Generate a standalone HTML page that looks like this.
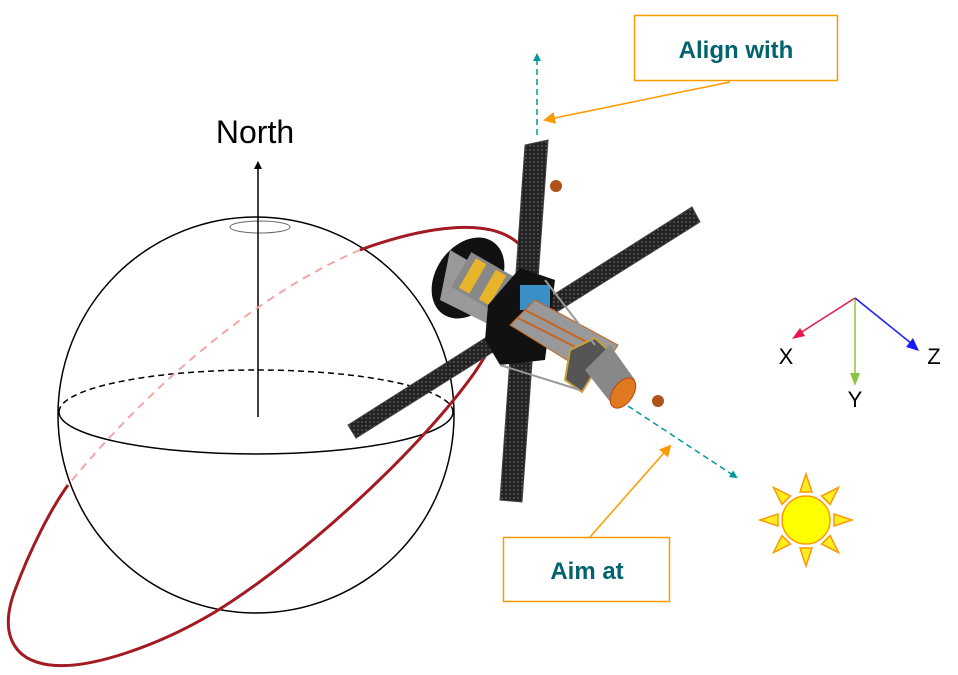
<!DOCTYPE html>
<html><head><style>body{margin:0;background:#fff;overflow:hidden}svg{display:block}</style></head><body>
<svg width="958" height="675" viewBox="0 0 958 675" xmlns="http://www.w3.org/2000/svg" font-family="Liberation Sans, sans-serif">
<defs>
<marker id="at" markerWidth="8" markerHeight="8" refX="6" refY="4" orient="auto" markerUnits="userSpaceOnUse"><path d="M0,0 L8,4 L0,8z" fill="#009999"/></marker>
<marker id="ao" markerWidth="12" markerHeight="12" refX="10" refY="6" orient="auto" markerUnits="userSpaceOnUse"><path d="M0,0 L12,6 L0,12z" fill="#ff9900"/></marker>
<marker id="ak" markerWidth="8" markerHeight="8" refX="7" refY="4" orient="auto" markerUnits="userSpaceOnUse"><path d="M0,0 L8,4 L0,8z" fill="#000"/></marker>
<pattern id="hex" width="4" height="4" patternUnits="userSpaceOnUse"><rect width="4" height="4" fill="#222"/><circle cx="2" cy="2" r="1" fill="#555"/></pattern>
</defs>
<!-- sphere -->
<circle cx="256" cy="415" r="198" fill="none" stroke="#000" stroke-width="1.5"/>
<path d="M59,412 A197,42 0 0 1 453,412" fill="none" stroke="#000" stroke-width="1.5" stroke-dasharray="6,4"/>
<path d="M59,412 A197,42 0 0 0 453,412" fill="none" stroke="#000" stroke-width="1.5"/>
<ellipse cx="260" cy="227" rx="30" ry="6" fill="none" stroke="#666" stroke-width="1"/>
<line x1="258" y1="417" x2="258" y2="162" stroke="#000" stroke-width="1.5" marker-end="url(#ak)"/>
<text x="255" y="143" font-size="32" text-anchor="middle">North</text>
<!-- orbit -->
<path d="M360,250 C 260,292 150,385 68,485" fill="none" stroke="#f4a6a6" stroke-width="2" stroke-dasharray="8,6"/>
<path d="M360,250 C 420,228 490,215 520,245" fill="none" stroke="#a31a22" stroke-width="3"/>
<path d="M520,245 C 520,290 500,335 475,372 C 420,450 300,560 215,612 C 160,645 90,670 50,665 C 10,660 0,630 15,590 C 30,550 50,510 68,485" fill="none" stroke="#a31a22" stroke-width="3"/>
<!-- satellite panels -->
<polygon points="525,145 548,140 522,502 500,500" fill="url(#hex)" stroke="#444"/>
<polygon points="348,425 692,207 700,222 356,438" fill="url(#hex)" stroke="#444"/>
<!-- cone -->
<ellipse cx="468" cy="278" rx="32" ry="44" transform="rotate(35 468 278)" fill="#111"/>
<polygon points="450,250 510,285 500,330 440,300" fill="#999"/>
<rect x="458" y="262" width="50" height="40" fill="#888" transform="rotate(30 483 282)"/>
<rect x="465" y="265" width="12" height="34" fill="#e8b52a" transform="rotate(30 483 282)"/>
<rect x="488" y="265" width="12" height="34" fill="#e8b52a" transform="rotate(30 483 282)"/>
<polygon points="488,305 520,268 555,280 545,360 500,365 485,340" fill="#111"/>
<rect x="520" y="285" width="30" height="25" fill="#3b8fc7"/>
<!-- tube -->
<polygon points="510,325 535,300 618,345 596,378" fill="#999"/>
<polygon points="510,325 535,300 618,345 596,378" fill="none" stroke="#c8641e" stroke-width="1"/>
<line x1="518" y1="318" x2="605" y2="362" stroke="#c8641e" stroke-width="2"/>
<line x1="525" y1="310" x2="612" y2="355" stroke="#c8641e" stroke-width="2"/>
<polygon points="570,350 595,338 608,350 582,392 565,380" fill="#555" stroke="#c9a040" stroke-width="2"/>
<polygon points="585,370 610,345 635,380 615,408" fill="#888"/>
<ellipse cx="623" cy="393" rx="10" ry="17" transform="rotate(35 623 393)" fill="#e07a20" stroke="#c04010"/>
<line x1="500" y1="365" x2="580" y2="390" stroke="#999" stroke-width="2"/>
<line x1="545" y1="280" x2="595" y2="345" stroke="#999" stroke-width="2"/>
<circle cx="556" cy="186" r="6" fill="#b0501a"/>
<circle cx="658" cy="401" r="6" fill="#b0501a"/>
<!-- teal lines -->
<line x1="537" y1="135" x2="537" y2="55" stroke="#009999" stroke-width="1.5" stroke-dasharray="6,4" marker-end="url(#at)"/>
<line x1="628" y1="406" x2="736" y2="477" stroke="#009999" stroke-width="1.5" stroke-dasharray="6,4" marker-end="url(#at)"/>
<!-- orange arrows -->
<line x1="730" y1="82" x2="545" y2="120" stroke="#ff9900" stroke-width="1.5" marker-end="url(#ao)"/>
<line x1="590" y1="537" x2="670" y2="446" stroke="#ff9900" stroke-width="1.5" marker-end="url(#ao)"/>
<!-- boxes -->
<rect x="634.5" y="15.5" width="203" height="65" fill="#fff" stroke="#ff9900" stroke-width="1.5"/>
<text x="736" y="58" font-size="24" font-weight="bold" fill="#00646e" text-anchor="middle">Align with</text>
<rect x="503.5" y="537.5" width="166" height="64" fill="#fff" stroke="#ff9900" stroke-width="1.5"/>
<text x="587" y="579" font-size="24" font-weight="bold" fill="#00646e" text-anchor="middle">Aim at</text>
<!-- axes -->
<line x1="855" y1="298" x2="797" y2="335" stroke="#e8174a" stroke-width="1.5"/>
<polygon points="792,339 800,328 805,336" fill="#e8174a"/>
<line x1="855" y1="298" x2="855" y2="376" stroke="#8ac43f" stroke-width="1.5"/>
<polygon points="850,373 860,373 855,386" fill="#8ac43f"/>
<line x1="855" y1="298" x2="912" y2="344" stroke="#1a1aff" stroke-width="1.5"/>
<polygon points="919,351 906,347 913,338" fill="#1a1aff"/>
<text x="786" y="364" font-size="22" text-anchor="middle">X</text>
<text x="855" y="407" font-size="22" text-anchor="middle">Y</text>
<text x="934" y="364" font-size="22" text-anchor="middle">Z</text>
<!-- sun -->
<g fill="#ffee22" stroke="#ff9900" stroke-width="1.5">
<circle cx="806" cy="520" r="24" fill="#ffff00"/>
<g id="ray"><polygon points="800,492 812,492 806,474"/></g>
<use href="#ray" transform="rotate(45 806 520)"/>
<use href="#ray" transform="rotate(90 806 520)"/>
<use href="#ray" transform="rotate(135 806 520)"/>
<use href="#ray" transform="rotate(180 806 520)"/>
<use href="#ray" transform="rotate(225 806 520)"/>
<use href="#ray" transform="rotate(270 806 520)"/>
<use href="#ray" transform="rotate(315 806 520)"/>
</g>
</svg>
</body></html>
